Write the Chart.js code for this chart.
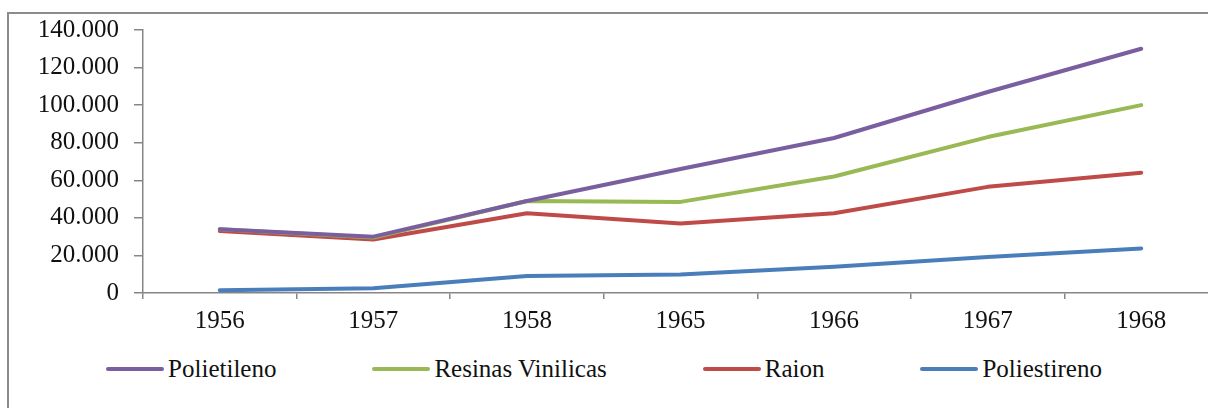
<!DOCTYPE html>
<html>
<head>
<meta charset="utf-8">
<script src="https://cdn.jsdelivr.net/npm/chart.js@4/dist/chart.umd.min.js"></script>
<style>
  html, body { margin: 0; padding: 0; background: #fff; }
  body { width: 1208px; height: 408px; overflow: hidden; position: relative; }
  #frame {
    position: absolute; left: 7px; top: 12px; width: 1300px; height: 500px;
    border: 2px solid #8c8c8c; box-sizing: border-box;
  }
  #plot { position: absolute; left: 0; top: 0; }
  #legend {
    position: absolute; left: 0; top: 354px; width: 1208px; height: 30px;
    display: flex; justify-content: center; align-items: center;
    font-family: 'Liberation Serif', 'Times New Roman', serif; font-size: 25px;
    line-height: 30px; color: #111;
  }
  .item { display: flex; align-items: center; margin: 0 48px; white-space: nowrap; }
  .swatch { display: inline-block; width: 58px; height: 4px; border-radius: 2px; margin-right: 4px; }
</style>
</head>
<body>
<div id="frame"></div>
<canvas id="plot" width="1240" height="340"></canvas>
<div id="legend"></div>
<script>
// Production by year (tonnes)
const years = ['1956', '1957', '1958', '1965', '1966', '1967', '1968'];
const polietileno  = [34000, 30000, 49000, 66000, 82500, 107000, 130000];
const resinas      = [34000, 29500, 49000, 48500, 62000, 83000, 100000];
const raion        = [33000, 28500, 42500, 37000, 42500, 56500, 64000];
const poliestireno = [1500, 2500, 9000, 9800, 14000, 19200, 23700];

const seriesNames = ['Polietileno', 'Resinas Vinilicas', 'Raion', 'Poliestireno'];
const seriesColors = ['#7a5fa0', '#98b954', '#be4b48', '#4a7ebb'];
const seriesValues = [polietileno, resinas, raion, poliestireno];

const yMax = 140000;
const yStep = 20000;

const FONT = "'Liberation Serif', 'Times New Roman', serif";
const AXIS = '#868686';

function thousands(v) {
  return String(v).replace(/\B(?=(\d{3})+(?!\d))/g, '.');
}

const datasets = seriesNames.map((name, i) => ({
  label: name,
  data: seriesValues[i],
  borderColor: seriesColors[i],
  backgroundColor: seriesColors[i],
  borderWidth: 4,
  borderCapStyle: 'round',
  borderJoinStyle: 'round',
  pointRadius: 0,
  pointHoverRadius: 0,
  tension: 0,
  fill: false
}));

const chart = new Chart(document.getElementById('plot'), {
  type: 'line',
  data: { labels: years, datasets },
  options: {
    responsive: false,
    animation: false,
    devicePixelRatio: 1,
    layout: { padding: { left: 0, right: 22, top: 30, bottom: 0 } },
    plugins: { legend: { display: false }, tooltip: { enabled: false } },
    scales: {
      x: {
        type: 'category',
        offset: true,
        grid: {
          display: true, offset: true, drawOnChartArea: false,
          drawTicks: true, tickLength: 6, color: AXIS, lineWidth: 1.5
        },
        border: { display: true, color: AXIS, width: 1.5 },
        ticks: {
          color: '#111', padding: 7,
          font: { family: FONT, size: 25 },
          maxRotation: 0, autoSkip: false
        },
        afterFit(scale) { scale.height = 47; }
      },
      y: {
        min: 0, max: yMax,
        grid: {
          display: true, drawOnChartArea: false,
          drawTicks: true, tickLength: 9, color: AXIS, lineWidth: 1.5
        },
        border: { display: true, color: AXIS, width: 1.5 },
        ticks: {
          stepSize: yStep, color: '#111', padding: 15,
          font: { family: FONT, size: 25 },
          callback: (v) => thousands(v)
        },
        afterFit(scale) { scale.width = 143; }
      }
    }
  }
});

// Legend row built from the chart's datasets
const legend = document.getElementById('legend');
chart.data.datasets.forEach((ds) => {
  const item = document.createElement('div');
  item.className = 'item';
  const sw = document.createElement('span');
  sw.className = 'swatch';
  sw.style.background = ds.borderColor;
  const txt = document.createElement('span');
  txt.textContent = ds.label;
  item.appendChild(sw);
  item.appendChild(txt);
  legend.appendChild(item);
});
</script>
</body>
</html>
